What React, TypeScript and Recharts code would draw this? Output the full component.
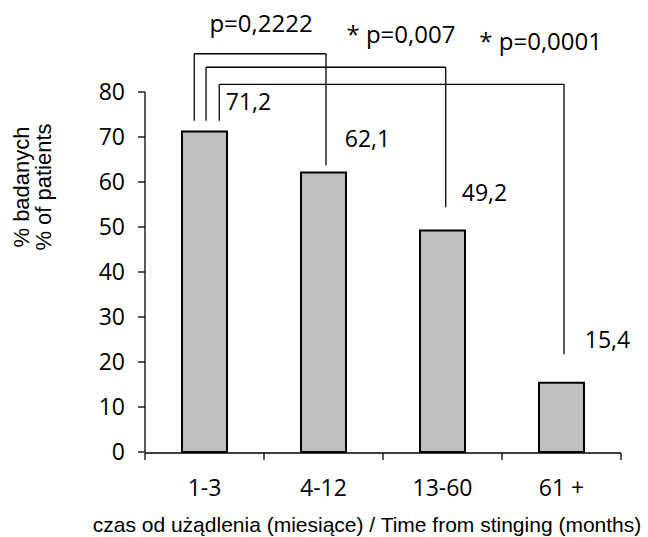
import {
  BarChart,
  Bar,
  XAxis,
  YAxis,
  ReferenceLine,
  ReferenceDot,
  LabelList,
  Label,
} from "recharts";

const CATEGORIES = ["1-3", "4-12", "13-60", "61 +"];
const PATIENTS_PCT = [71.2, 62.1, 49.2, 15.4];
const Y_TICKS = [0, 10, 20, 30, 40, 50, 60, 70, 80];
const GROUP_EDGES = [0, 1, 2, 3, 4];

const P_VALUES = ["p=0,2222", "* p=0,007", "* p=0,0001"];

// bracket geometry in axis units (x: 0..4 across the groups, y: %)
const BRACKET_LEFT_X = [0.414, 0.513, 0.624];
const BRACKET_RIGHT_X = [1.521, 2.527, 3.521];
const BRACKET_TOP = [88.5, 85.5, 81.7];
const BRACKET_LEFT_END = 73.6;
const BRACKET_RIGHT_END = [63.7, 54.4, 21.7];
const P_X = [0.975, 2.151, 3.325];
const P_Y = [95.2, 92.8, 91.2];

// value label offsets from the bar top centre (px)
const LABEL_DX = [44, 44, 42, 46];
const LABEL_DY = [-22, -26, -30, -35];

const NUM_FONT = "'Open Sans', sans-serif";
const TITLE_FONT = "'Liberation Sans', Arial, sans-serif";

const data = CATEGORIES.map((c, i) => ({
  category: c,
  pos: i + 0.5,
  value: PATIENTS_PCT[i],
}));

function ValueLabel(props: any) {
  const { x, y, width, value, index } = props;
  return (
    <text
      x={x + width / 2 + LABEL_DX[index]}
      y={y + LABEL_DY[index]}
      textAnchor="middle"
      fontSize={23}
      fontFamily={NUM_FONT}
      fill="#000"
    >
      {String(value).replace(".", ",")}
    </text>
  );
}

function NoTick() {
  return <g />;
}

function YTitle() {
  return (
    <g transform="translate(0, 187) rotate(-90)">
      <text textAnchor="middle" fontSize={22} fontFamily={TITLE_FONT} fill="#000">
        <tspan x={0} y={28.5}>% badanych</tspan>
        <tspan x={0} y={50.5}>% of patients</tspan>
      </text>
    </g>
  );
}

function XTitle() {
  return (
    <text x={367} y={532} textAnchor="middle" fontSize={21} fontFamily={TITLE_FONT} fill="#000">
      czas od użądlenia (miesiące) / Time from stinging (months)
    </text>
  );
}

export default function App() {
  return (
    <div style={{ position: "absolute", left: 0, top: 0, background: "#fff" }}>
      <BarChart
        width={648}
        height={537}
        data={data}
        margin={{ top: 92, right: 27, bottom: 83, left: 0 }}
        barSize={45}
      >
        <XAxis
          xAxisId="num"
          type="number"
          dataKey="pos"
          domain={[0, 4]}
          allowDataOverflow
          ticks={GROUP_EDGES}
          interval={0}
          tick={<NoTick />}
          tickSize={7}
          height={1}
          axisLine={{ stroke: "#000", strokeWidth: 1.3 }}
          tickLine={{ stroke: "#000", strokeWidth: 1.3 }}
        >
          <Label content={<XTitle />} />
        </XAxis>
        <XAxis
          xAxisId="cat"
          dataKey="category"
          height={1}
          axisLine={false}
          tickLine={false}
          tickSize={0}
          tickMargin={28}
          tick={{ fontSize: 23, fill: "#000", fontFamily: NUM_FONT }}
        />
        <YAxis
          width={145}
          domain={[0, 80]}
          ticks={Y_TICKS}
          tickSize={7}
          tickMargin={13}
          axisLine={{ stroke: "#000", strokeWidth: 1.3 }}
          tickLine={{ stroke: "#000", strokeWidth: 1.3 }}
          tick={{ fontSize: 23, fill: "#000", fontFamily: NUM_FONT }}
        >
          <Label content={<YTitle />} />
        </YAxis>
        <Bar
          xAxisId="cat"
          dataKey="value"
          fill="#bfbfbf"
          stroke="#000"
          strokeWidth={2}
          isAnimationActive={false}
        >
          <LabelList dataKey="value" content={<ValueLabel />} />
        </Bar>
        {P_VALUES.map((p, i) => [
          <ReferenceLine
            key={`l${i}`}
            xAxisId="num"
            ifOverflow="visible"
            stroke="#000"
            strokeWidth={1.3}
            segment={[
              { x: BRACKET_LEFT_X[i], y: BRACKET_LEFT_END },
              { x: BRACKET_LEFT_X[i], y: BRACKET_TOP[i] },
            ]}
          />,
          <ReferenceLine
            key={`t${i}`}
            xAxisId="num"
            ifOverflow="visible"
            stroke="#000"
            strokeWidth={1.3}
            segment={[
              { x: BRACKET_LEFT_X[i], y: BRACKET_TOP[i] },
              { x: BRACKET_RIGHT_X[i], y: BRACKET_TOP[i] },
            ]}
          />,
          <ReferenceLine
            key={`r${i}`}
            xAxisId="num"
            ifOverflow="visible"
            stroke="#000"
            strokeWidth={1.3}
            segment={[
              { x: BRACKET_RIGHT_X[i], y: BRACKET_TOP[i] },
              { x: BRACKET_RIGHT_X[i], y: BRACKET_RIGHT_END[i] },
            ]}
          />,
          <ReferenceDot
            key={`p${i}`}
            xAxisId="num"
            x={P_X[i]}
            y={P_Y[i]}
            r={0}
            fill="none"
            stroke="none"
            ifOverflow="visible"
            label={{
              value: p,
              position: "center",
              fontSize: 24,
              fill: "#000",
              fontFamily: NUM_FONT,
            }}
          />,
        ])}
      </BarChart>
    </div>
  );
}
